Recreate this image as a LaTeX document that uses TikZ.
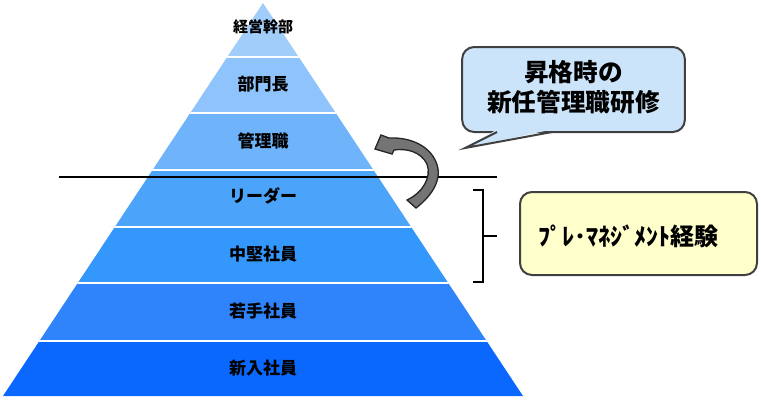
\documentclass[tikz,border=0pt]{standalone}
\usepackage{fontspec}
\setmainfont{Noto Sans CJK JP}
\begin{document}
\begin{tikzpicture}[x=0.75pt,y=-0.75pt,
  lbl/.style={font=\bfseries\fontsize{12.75pt}{14pt}\selectfont, text=black, inner sep=0pt},
  sep/.style={white, line width=1.6pt},
  boxline/.style={draw=black!75, line width=1.5pt, rounded corners=9pt}]
\definecolor{cA}{HTML}{A0CDFA}
\definecolor{cB}{HTML}{8EC4FB}
\definecolor{cC}{HTML}{6FB4FB}
\definecolor{cD}{HTML}{4BA4FA}
\definecolor{cE}{HTML}{3397FC}
\definecolor{cF}{HTML}{2F84FC}
\definecolor{cG}{HTML}{0A68FE}
\definecolor{bubblefill}{HTML}{CCE4FA}
\definecolor{yellowfill}{HTML}{FFFFCC}
\definecolor{arrowgray}{HTML}{747474}
\useasboundingbox (0,0) rectangle (761,408);
% pyramid
\begin{scope}
  \clip (263,3) -- (523,396) -- (3,396) -- cycle;
  \fill[cA] (0,0) rectangle (761,57);
  \fill[cB] (0,57) rectangle (761,113);
  \fill[cC] (0,113) rectangle (761,170);
  \fill[cD] (0,170) rectangle (761,227);
  \fill[cE] (0,227) rectangle (761,283);
  \fill[cF] (0,283) rectangle (761,341);
  \fill[cG] (0,341) rectangle (761,400);
  \foreach \yy in {57,113,170,227,283,341} \draw[sep] (0,\yy) -- (761,\yy);
\end{scope}
\node[lbl, font=\bfseries\fontsize{11.25pt}{13pt}\selectfont] (l1) at (263,27) {経営幹部};
\node[lbl] (l2) at (263,84) {部門長};
\node[lbl] (l3) at (263,141) {管理職};
\node[lbl] (l4) at (263,196) {リーダー};
\node[lbl] (l5) at (263,254) {中堅社員};
\node[lbl] (l6) at (263,311) {若手社員};
\node[lbl] (l7) at (263,368) {新入社員};
% divider line
\draw[black, line width=1.2pt] (59,177) -- (497,177);
% curved arrow
\draw[fill=arrowgray, draw=black!85, line width=1pt, line join=miter]
  (407,200) -- (416,208)
  .. controls (433,195) and (443,178) .. (436,162)
  .. controls (430,147) and (412,137) .. (389,138)
  -- (381,135) -- (375,149) -- (392,154) -- (394,150)
  .. controls (407,148) and (421,152) .. (427,164)
  .. controls (432,178) and (422,193) .. (407,200) -- cycle;
% speech bubble
\node[boxline, fill=bubblefill, minimum width=167pt, minimum height=63.75pt] (bubble) at (573.5,89.5) {};
\fill[bubblefill] (497,129.5) -- (465,148) -- (552,129.5) -- cycle;
\draw[black!75, line width=1.5pt, line join=miter] (497,132) -- (465,148) -- (552,132);
\node[align=center, font=\bfseries\fontsize{18.5pt}{22.5pt}\selectfont, inner sep=0pt] (btext) at (573.5,87) {昇格時の\\新任管理職研修};
% bracket
\draw[black, line width=1.9pt] (473,190) -- (483,190) -- (483,282) -- (473,282);
\draw[black, line width=1.9pt] (483,236) -- (497,236);
% yellow box
\node[boxline, fill=yellowfill, minimum width=177.75pt, minimum height=62.25pt] (ybox) at (638.5,233.5) {};
\node[font=\bfseries\fontsize{18pt}{20pt}\selectfont, inner sep=0pt, anchor=west] (ytext) at (538,236) {ﾌﾟﾚ･ﾏﾈｼﾞﾒﾝﾄ経験};
\end{tikzpicture}
\end{document}
